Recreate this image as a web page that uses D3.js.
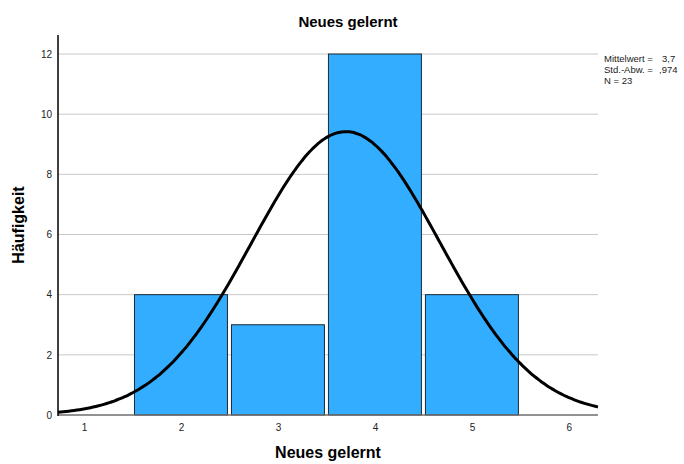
<!DOCTYPE html>
<html>
<head>
<meta charset="utf-8">
<script src="https://cdn.jsdelivr.net/npm/d3@7"></script>
<style>
  body { margin: 0; background: #fff; }
  svg text { font-family: "Liberation Sans", Arial, sans-serif; }
</style>
</head>
<body>
<script>
// histogram data
var categories = [2, 3, 4, 5];
var counts = [4, 3, 12, 4];
var xTicks = [1, 2, 3, 4, 5, 6];
var yTicks = [0, 2, 4, 6, 8, 10, 12];
var mean = 3.7, sd = 0.974, n = 23;
var legendLabels = ["Mittelwert =", "Std.-Abw. =", "N = 23"];
var legendValues = ["3,7", ",974", ""];

var width = 684, height = 464;
var margin = { left: 58, right: 86, top: 35, bottom: 49 };

var svg = d3.select("body").append("svg")
  .attr("width", width)
  .attr("height", height);

var x = d3.scaleLinear()
  .domain([0.732, 6.3])
  .range([margin.left, width - margin.right]);

var y = d3.scaleLinear()
  .domain([0, 12])
  .range([height - margin.bottom, 54]);

// gridlines
svg.append("g").selectAll("line")
  .data(yTicks.filter(function(d) { return d > 0; }))
  .enter().append("line")
    .attr("x1", margin.left).attr("x2", width - margin.right)
    .attr("y1", function(d) { return y(d); })
    .attr("y2", function(d) { return y(d); })
    .attr("stroke", "#c8c8c8")
    .attr("stroke-width", 1);

// bars
var binW = x(2) - x(1);
svg.append("g").selectAll("rect")
  .data(categories)
  .enter().append("rect")
    .attr("x", function(d) { return x(d - 0.5) + 2; })
    .attr("width", binW - 4)
    .attr("y", function(d, i) { return y(counts[i]); })
    .attr("height", function(d, i) { return y(0) - y(counts[i]); })
    .attr("fill", "#33adff")
    .attr("stroke", "#1e2a33")
    .attr("stroke-width", 1);

// bottom axis line
svg.append("line")
  .attr("x1", margin.left).attr("x2", width - margin.right)
  .attr("y1", y(0)).attr("y2", y(0))
  .attr("stroke", "#6e6e6e").attr("stroke-width", 1.5);

// normal curve
var curvePts = d3.range(0, 201).map(function(i) {
  var v = 0.732 + (6.3 - 0.732) * i / 200;
  var dens = n / (sd * Math.sqrt(2 * Math.PI)) * Math.exp(-0.5 * Math.pow((v - mean) / sd, 2));
  return [v, dens];
});
svg.append("path")
  .datum(curvePts)
  .attr("fill", "none")
  .attr("stroke", "#000")
  .attr("stroke-width", 3)
  .attr("d", d3.line()
    .x(function(d) { return x(d[0]); })
    .y(function(d) { return y(d[1]); })
    .curve(d3.curveBasis));

// y axis
var yAxis = d3.axisLeft(y).tickValues(yTicks).tickSize(0).tickPadding(6).tickFormat(d3.format("d"));
var gy = svg.append("g")
  .attr("transform", "translate(" + margin.left + ",0)")
  .call(yAxis);
gy.select(".domain").remove();
gy.selectAll("text").attr("font-size", 10).attr("fill", "#222")
  .attr("font-family", "Liberation Sans, Arial, sans-serif");
svg.append("line")
  .attr("x1", margin.left).attr("x2", margin.left)
  .attr("y1", margin.top).attr("y2", y(0) + 1)
  .attr("stroke", "#000").attr("stroke-width", 1.5);

// x axis
var xAxis = d3.axisBottom(x).tickValues(xTicks).tickSize(0).tickPadding(9).tickFormat(d3.format("d"));
var gx = svg.append("g")
  .attr("transform", "translate(0," + y(0) + ")")
  .call(xAxis);
gx.select(".domain").remove();
gx.selectAll("text").attr("font-size", 10).attr("fill", "#222")
  .attr("font-family", "Liberation Sans, Arial, sans-serif");

// titles
svg.append("text")
  .attr("x", 348).attr("y", 27)
  .attr("text-anchor", "middle")
  .attr("font-size", 15).attr("font-weight", "bold")
  .text("Neues gelernt");

svg.append("text")
  .attr("x", 328).attr("y", 458)
  .attr("text-anchor", "middle")
  .attr("font-size", 16).attr("font-weight", "bold")
  .text("Neues gelernt");

svg.append("text")
  .attr("transform", "translate(24,225) rotate(-90)")
  .attr("text-anchor", "middle")
  .attr("font-size", 16).attr("font-weight", "bold")
  .text("Häufigkeit");

// legend
var leg = svg.append("g").attr("transform", "translate(604,62)");
legendLabels.forEach(function(l, i) {
  leg.append("text").attr("x", 0).attr("y", i * 11)
    .attr("font-size", 9.5).attr("fill", "#222").text(l);
  leg.append("text").attr("x", i === 1 ? 55 : 58).attr("y", i * 11)
    .attr("font-size", 9.5).attr("fill", "#222").text(legendValues[i]);
});
</script>
</body>
</html>
